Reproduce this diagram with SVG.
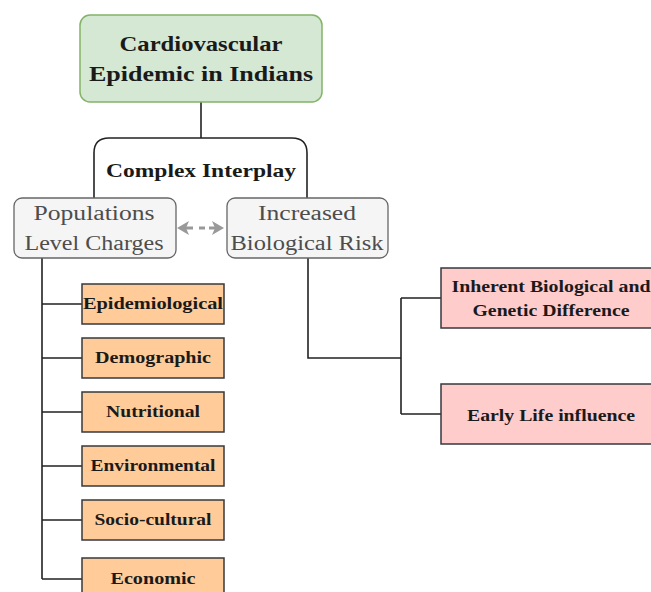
<svg xmlns="http://www.w3.org/2000/svg" width="651" height="592" viewBox="0 0 651 592">
<defs>
<style>
.t{font-family:"Liberation Serif","DejaVu Serif",serif;text-anchor:middle}
.b{font-weight:bold;fill:#1a1a1a}
.g{fill:#4d4d4d}
.con{fill:none;stroke:#222;stroke-width:1.6}
.orange{fill:#ffcc99;stroke:#36393d;stroke-width:1.5}
.pink{fill:#ffcccc;stroke:#36393d;stroke-width:1.5}
.gray{fill:#f5f5f5;stroke:#666;stroke-width:1.3}
.ar{stroke:#999;stroke-width:3;fill:none}
.ah{fill:#999}
</style>
</defs>
<g id="connectors">
<line class="con" x1="201" y1="102" x2="201" y2="138"/>
<path class="con" d="M94 198 V153 Q94 138 109 138 H292 Q307 138 307 153 V198"/>
<path class="con" d="M42 258 V579 M42 304 H82 M42 358 H82 M42 412 H82 M42 466 H82 M42 520 H82 M42 579 H82"/>
<path class="con" d="M308 258 V358 H401 M401 298 V414 M401 298 H441 M401 414 H441"/>
<g id="bidirectional">
<line class="ar" x1="185" y1="228" x2="193" y2="228"/>
<line class="ar" x1="199" y1="228" x2="205" y2="228"/>
<line class="ar" x1="209" y1="228" x2="217" y2="228"/>
<polygon class="ah" points="177,228 189,221 186,228 189,235"/>
<polygon class="ah" points="224,228 212,221 215,228 212,235"/>
</g>
</g>
<g id="title">
<rect x="80" y="15" width="242" height="87" rx="10" fill="#d5e8d4" stroke="#82b366" stroke-width="1.5"/>
<text class="t b" x="201" y="51" font-size="22" textLength="163" lengthAdjust="spacingAndGlyphs">Cardiovascular</text>
<text class="t b" x="201" y="81" font-size="22" textLength="224" lengthAdjust="spacingAndGlyphs">Epidemic in Indians</text>
</g>
<g id="interplay">
<rect x="104" y="156" width="194" height="30" fill="#fff"/>
<text class="t b" x="201" y="177" font-size="19" textLength="190" lengthAdjust="spacingAndGlyphs">Complex Interplay</text>
</g>
<g id="populations">
<rect class="gray" x="14" y="198" width="162" height="60" rx="8"/>
<text class="t g" x="94" y="220" font-size="20" textLength="121" lengthAdjust="spacingAndGlyphs">Populations</text>
<text class="t g" x="94" y="250" font-size="20" textLength="139" lengthAdjust="spacingAndGlyphs">Level Charges</text>
</g>
<g id="increased">
<rect class="gray" x="227" y="198" width="161" height="60" rx="8"/>
<text class="t g" x="307" y="220" font-size="20" textLength="98" lengthAdjust="spacingAndGlyphs">Increased</text>
<text class="t g" x="307" y="250" font-size="20" textLength="153" lengthAdjust="spacingAndGlyphs">Biological Risk</text>
</g>
<g id="epidemiological">
<rect class="orange" x="82" y="284" width="142" height="40"/>
<text class="t b" x="153" y="309" font-size="16" textLength="140" lengthAdjust="spacingAndGlyphs">Epidemiological</text>
</g>
<g id="demographic">
<rect class="orange" x="82" y="338" width="142" height="40"/>
<text class="t b" x="153" y="363" font-size="16" textLength="116" lengthAdjust="spacingAndGlyphs">Demographic</text>
</g>
<g id="nutritional">
<rect class="orange" x="82" y="392" width="142" height="40"/>
<text class="t b" x="153" y="417" font-size="16" textLength="94" lengthAdjust="spacingAndGlyphs">Nutritional</text>
</g>
<g id="environmental">
<rect class="orange" x="82" y="446" width="142" height="40"/>
<text class="t b" x="153" y="471" font-size="16" textLength="125" lengthAdjust="spacingAndGlyphs">Environmental</text>
</g>
<g id="sociocultural">
<rect class="orange" x="82" y="500" width="142" height="40"/>
<text class="t b" x="153" y="525" font-size="16" textLength="117" lengthAdjust="spacingAndGlyphs">Socio-cultural</text>
</g>
<g id="economic">
<rect class="orange" x="82" y="558" width="142" height="40"/>
<text class="t b" x="153" y="584" font-size="16" textLength="85" lengthAdjust="spacingAndGlyphs">Economic</text>
</g>
<g id="inherent">
<rect class="pink" x="441" y="268" width="222" height="60"/>
<text class="t b" x="551" y="292" font-size="16" textLength="199" lengthAdjust="spacingAndGlyphs">Inherent Biological and</text>
<text class="t b" x="551" y="316" font-size="16" textLength="157" lengthAdjust="spacingAndGlyphs">Genetic Difference</text>
</g>
<g id="earlylife">
<rect class="pink" x="441" y="384" width="222" height="60"/>
<text class="t b" x="551" y="421" font-size="16" textLength="168" lengthAdjust="spacingAndGlyphs">Early Life influence</text>
</g>
</svg>
